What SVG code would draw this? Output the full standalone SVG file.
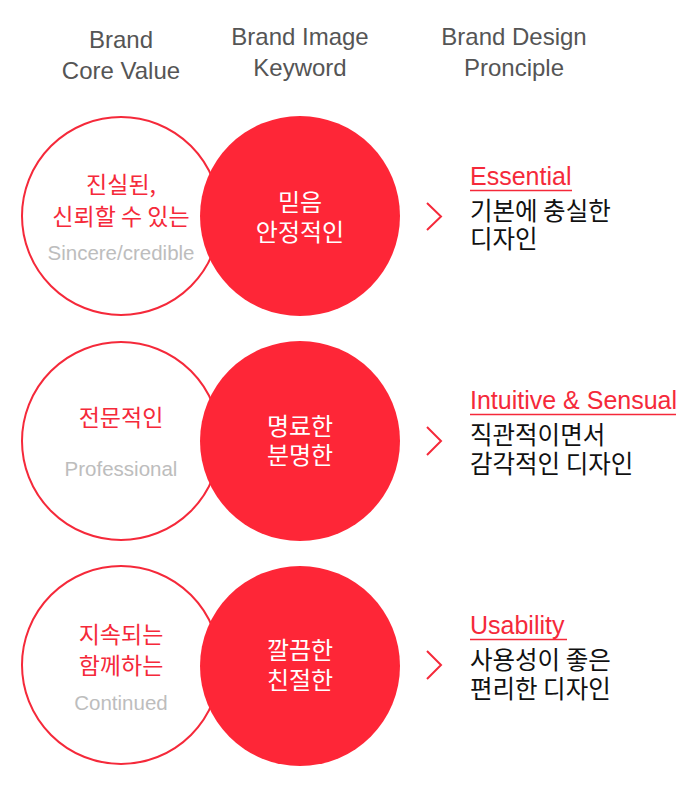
<svg xmlns="http://www.w3.org/2000/svg" width="695" height="785" viewBox="0 0 695 785">
<style>
.hd{font-family:"Liberation Sans","Noto Sans CJK KR",sans-serif;font-size:24px;fill:#555;text-anchor:middle}
.ring{fill:#fff;stroke:#f5293a;stroke-width:2}
.disc{fill:#fe2637}
.kl{font-family:"Noto Sans CJK KR","Liberation Sans",sans-serif;font-size:23px;fill:#f5293a;text-anchor:middle}
.en{font-family:"Liberation Sans",sans-serif;font-size:20.5px;fill:#bdbdbd;text-anchor:middle}
.kw{font-family:"Noto Sans CJK KR","Liberation Sans",sans-serif;font-size:24px;fill:#fff;text-anchor:middle}
.pt{font-family:"Liberation Sans","Noto Sans CJK KR",sans-serif;font-size:25px;fill:#f5293a}
.ul{stroke:#f5293a;stroke-width:1.5}
.ds{font-family:"Noto Sans CJK KR","Liberation Sans",sans-serif;font-size:24.5px;fill:#111}
.chev{fill:none;stroke:#f5293a;stroke-width:2}
</style>
<g id="headers">
<text class="hd" x="121" y="48">Brand</text>
<text class="hd" x="121" y="79">Core Value</text>
<text class="hd" x="300" y="45">Brand Image</text>
<text class="hd" x="300" y="76">Keyword</text>
<text class="hd" x="514" y="45">Brand Design</text>
<text class="hd" x="514" y="76">Pronciple</text>
</g>
<g id="value1">
<circle class="ring" cx="121" cy="216" r="99"/>
<text class="kl" x="121" y="193">진실된,</text>
<text class="kl" x="121" y="225">신뢰할 수 있는</text>
<text class="en" x="121" y="260">Sincere/credible</text>
</g>
<g id="keyword1">
<circle class="disc" cx="300" cy="216" r="100"/>
<text class="kw" x="300" y="211">믿음</text>
<text class="kw" x="300" y="241">안정적인</text>
</g>
<g id="value2">
<circle class="ring" cx="121" cy="441" r="99"/>
<text class="kl" x="121" y="426">전문적인</text>
<text class="en" x="121" y="476">Professional</text>
</g>
<g id="keyword2">
<circle class="disc" cx="300" cy="441" r="100"/>
<text class="kw" x="300" y="435">명료한</text>
<text class="kw" x="300" y="464">분명한</text>
</g>
<g id="value3">
<circle class="ring" cx="121" cy="665" r="99"/>
<text class="kl" x="121" y="643">지속되는</text>
<text class="kl" x="121" y="674">함께하는</text>
<text class="en" x="121" y="710">Continued</text>
</g>
<g id="keyword3">
<circle class="disc" cx="300" cy="666" r="100"/>
<text class="kw" x="300" y="659">깔끔한</text>
<text class="kw" x="300" y="689">친절한</text>
</g>
<g id="connectors">
<polyline class="chev" points="427,203 441,216.5 427,230"/>
<polyline class="chev" points="427,427 441,441 427,455"/>
<polyline class="chev" points="427,651 441,665 427,679"/>
</g>
<g id="principle1">
<text class="pt" x="470" y="185">Essential</text>
<line class="ul" x1="470" y1="190.5" x2="572" y2="190.5"/>
<text class="ds" x="470" y="220">기본에 충실한</text>
<text class="ds" x="470" y="248">디자인</text>
</g>
<g id="principle2">
<text class="pt" x="470" y="409">Intuitive &amp; Sensual</text>
<line class="ul" x1="470" y1="414.5" x2="676" y2="414.5"/>
<text class="ds" x="470" y="444">직관적이면서</text>
<text class="ds" x="470" y="473">감각적인 디자인</text>
</g>
<g id="principle3">
<text class="pt" x="470" y="634">Usability</text>
<line class="ul" x1="470" y1="639.5" x2="567" y2="639.5"/>
<text class="ds" x="470" y="669">사용성이 좋은</text>
<text class="ds" x="470" y="698">편리한 디자인</text>
</g>
</svg>
